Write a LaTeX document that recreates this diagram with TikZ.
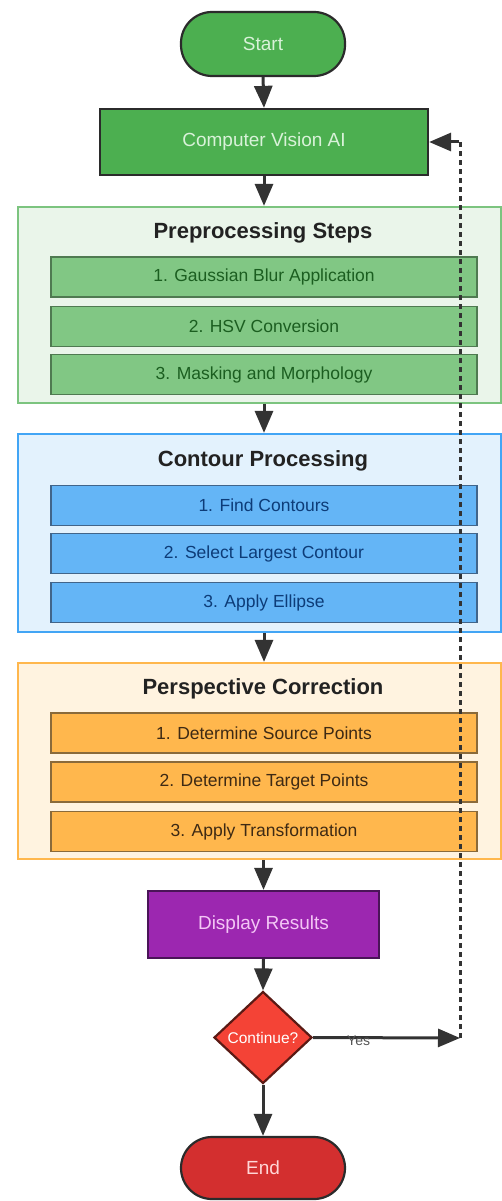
\documentclass[tikz,border=0pt]{standalone}
\usepackage{fontspec}
\setmainfont{Liberation Sans}
\usetikzlibrary{arrows.meta,shapes.geometric}
\definecolor{darkline}{HTML}{2B2B2B}
\definecolor{arrcol}{HTML}{333333}
\definecolor{gfill}{HTML}{4CAF50}
\definecolor{gtext}{HTML}{D9F2D9}
\definecolor{gcfill}{HTML}{EAF5EA}
\definecolor{gcdraw}{HTML}{7CC47F}
\definecolor{gsfill}{HTML}{81C784}
\definecolor{gsdraw}{HTML}{4F7A51}
\definecolor{gstext}{HTML}{1B5E20}
\definecolor{bcfill}{HTML}{E3F2FD}
\definecolor{bcdraw}{HTML}{42A5F5}
\definecolor{bsfill}{HTML}{64B5F6}
\definecolor{bsdraw}{HTML}{41658A}
\definecolor{bstext}{HTML}{0D3C78}
\definecolor{ocfill}{HTML}{FFF3E0}
\definecolor{ocdraw}{HTML}{FFB74D}
\definecolor{osfill}{HTML}{FFB74D}
\definecolor{osdraw}{HTML}{8A6A3A}
\definecolor{ostext}{HTML}{3E2A14}
\definecolor{pfill}{HTML}{9C27B0}
\definecolor{ptext}{HTML}{F3C6F5}
\definecolor{pdraw}{HTML}{4A1458}
\definecolor{rfill}{HTML}{F44336}
\definecolor{rdraw}{HTML}{5A1A14}
\definecolor{efill}{HTML}{D32F2F}
\definecolor{etext}{HTML}{FFD6D6}
\definecolor{titlecol}{HTML}{222222}
\begin{document}
\begin{tikzpicture}[x=1pt,y=-1pt,
  term/.style={draw=darkline, line width=2.2pt, rounded corners=31pt, minimum width=164pt, minimum height=64pt, inner sep=0pt, font=\fontsize{19}{22}\selectfont},
  proc/.style={draw=darkline, line width=2.2pt, minimum height=66pt, inner sep=0pt, font=\fontsize{19}{22}\selectfont},
  cont/.style={line width=2.2pt, minimum width=483pt, inner sep=0pt},
  ctitle/.style={font=\bfseries\fontsize{22}{26}\selectfont, text=titlecol},
  stepbox/.style={line width=1.8pt, minimum width=426pt, minimum height=40pt, inner sep=0pt, font=\fontsize{17.5}{20}\selectfont},
  gstep/.style={stepbox, draw=gsdraw, fill=gsfill, text=gstext},
  bstep/.style={stepbox, draw=bsdraw, fill=bsfill, text=bstext},
  ostep/.style={stepbox, draw=osdraw, fill=osfill, text=ostext},
  arr/.style={draw=arrcol, line width=3pt, -{Triangle[length=22pt,width=18pt]}},
  loopline/.style={draw=arrcol, line width=3pt, dash pattern=on 5pt off 4pt}
]
\useasboundingbox (0,0) rectangle (502,1201);

% containers
\node[cont, draw=gcdraw, fill=gcfill, minimum height=196pt] (pre) at (259.5,305) {};
\node[ctitle] (pret) at (263,233) {Preprocessing Steps};
\node[gstep] (p1) at (264,277) {1. Gaussian Blur Application};
\node[gstep] (p2) at (264,326.5) {2. HSV Conversion};
\node[gstep] (p3) at (264,374.5) {3. Masking and Morphology};

\node[cont, draw=bcdraw, fill=bcfill, minimum height=198pt] (con) at (259.5,533) {};
\node[ctitle] (cont) at (263,461) {Contour Processing};
\node[bstep] (c1) at (264,505.5) {1. Find Contours};
\node[bstep] (c2) at (264,553.5) {2. Select Largest Contour};
\node[bstep] (c3) at (264,602.5) {3. Apply Ellipse};

\node[cont, draw=ocdraw, fill=ocfill, minimum height=196pt] (per) at (259.5,761) {};
\node[ctitle] (pert) at (263,689) {Perspective Correction};
\node[ostep] (o1) at (264,733) {1. Determine Source Points};
\node[ostep] (o2) at (264,782) {2. Determine Target Points};
\node[ostep] (o3) at (264,831.5) {3. Apply Transformation};

% main nodes
\node[term, fill=gfill, text=gtext] (start) at (263,44) {Start};
\node[proc, fill=gfill, text=gtext, minimum width=328pt] (cv) at (264,142) {Computer Vision AI};
\node[proc, fill=pfill, text=ptext, draw=pdraw, minimum width=231pt, minimum height=67pt] (disp) at (263.5,924.5) {Display Results};
\node[diamond, draw=rdraw, line width=2.2pt, fill=rfill, text=white, aspect=1.065, minimum width=98pt, minimum height=92pt, inner sep=0pt, font=\fontsize{15.5}{18}\selectfont] (dec) at (263,1037.5) {Continue?};
\node[term, fill=efill, text=etext, minimum height=62pt] (end) at (263,1168) {End};
\coordinate (turn) at (460,1038);

% connectors
\draw[arr] (start.south) -- (cv.north);
\draw[arr] (cv.south) -- (cv.south |- pre.north);
\draw[arr] (cv.south |- pre.south) -- (cv.south |- con.north);
\draw[arr] (cv.south |- con.south) -- (cv.south |- per.north);
\draw[arr] (disp.north |- per.south) -- (disp.north);
\draw[arr] (disp.south) -- (dec.north);
\draw[arr] (dec.south) -- (end.north);
\draw[arr] (dec.east) -- node[pos=0.31, yshift=-3pt, text=gray!65!black, font=\fontsize{14}{16}\selectfont] {Yes} (turn);
\draw[loopline] (turn) -- (turn |- cv.east) -- ([xshift=25pt]cv.east);
\draw[arr] ([xshift=30pt]cv.east) -- (cv.east);
\end{tikzpicture}
\end{document}
